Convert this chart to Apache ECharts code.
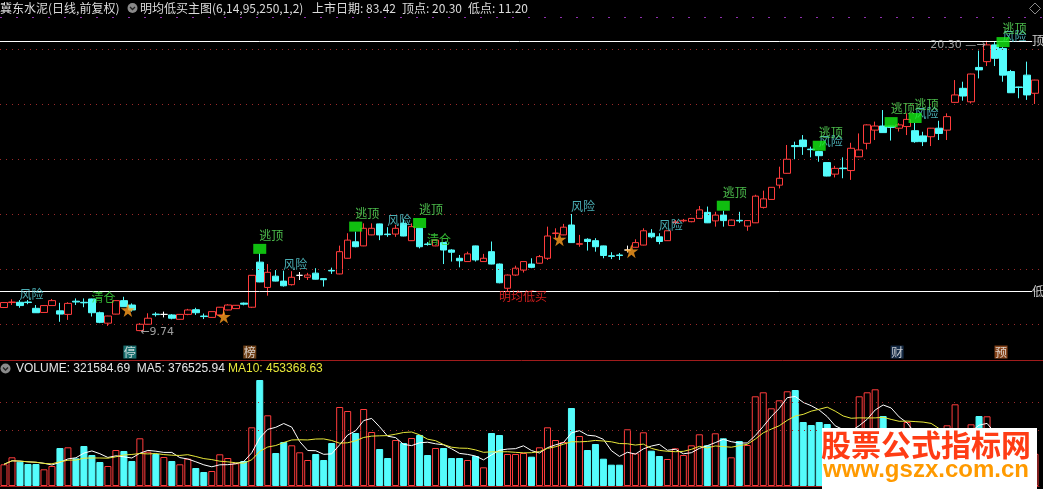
<!DOCTYPE html>
<html><head><meta charset="utf-8">
<script src="https://cdn.jsdelivr.net/npm/echarts@6/dist/echarts.min.js"></script>
<style>html,body{margin:0;padding:0;background:#000;overflow:hidden}#c{width:1043px;height:489px}</style>
</head><body><div id="c"></div>
<script>
// ---------- data ----------
const opens = [10.60,10.78,10.79,10.80,10.57,10.42,10.67,10.48,10.35,10.83,
 10.79,10.91,10.41,10.03,10.36,10.85,10.69,9.76,9.99,10.36,
 10.35,10.33,10.17,10.35,10.52,10.29,10.24,10.33,10.51,10.56,
 10.76,10.61,12.25,11.33,11.74,11.56,11.43,11.77,11.70,11.85,
 11.65,11.95,11.82,12.39,12.99,12.84,13.24,13.64,13.27,13.27,
 13.66,13.03,13.48,12.91,12.84,12.96,12.69,12.39,12.27,12.84,
 12.27,12.63,12.18,11.30,11.78,11.96,12.18,12.21,12.39,13.29,
 13.24,13.60,12.90,13.08,13.03,12.84,12.48,12.51,12.69,12.79,
 12.87,13.30,13.17,13.03,13.69,13.75,13.72,13.84,14.06,13.75,
 13.96,13.58,13.77,13.56,13.68,14.24,14.53,15.05,15.48,16.49,
 16.69,16.36,16.27,15.87,15.45,15.67,15.58,16.08,16.57,17.05,
 17.20,17.20,17.12,17.18,17.03,16.84,16.81,17.12,17.05,18.06,
 18.57,18.08,19.33,19.54,20.15,20.02,19.18,18.62,19.05,18.39];
const closes = [10.78,10.80,10.67,10.78,10.41,10.67,10.85,10.36,10.75,10.80,
 10.77,10.41,10.06,10.29,10.85,10.63,10.51,9.99,10.21,10.34,
 10.35,10.21,10.35,10.51,10.41,10.27,10.45,10.61,10.69,10.68,
 10.72,11.77,11.53,11.88,11.56,11.39,11.70,11.77,11.78,11.63,
 11.61,11.93,12.63,13.05,12.81,13.48,13.48,13.24,13.25,13.48,
 13.20,13.54,12.81,12.89,13.05,12.69,12.61,12.30,12.55,12.33,
 12.39,12.18,11.50,11.78,12.03,12.27,12.06,12.45,13.20,13.31,
 13.52,12.96,12.92,13.00,12.81,12.49,12.46,12.49,12.69,12.96,
 13.39,13.17,13.00,13.39,13.71,13.77,13.84,14.15,13.68,13.96,
 13.76,13.78,13.75,13.76,14.65,14.55,14.97,15.30,15.99,16.45,
 16.45,16.34,16.12,15.38,15.66,15.65,16.39,16.33,17.24,17.20,
 16.96,17.15,17.24,17.44,16.63,16.63,17.12,16.93,17.54,18.33,
 18.29,19.09,19.24,20.15,19.66,19.05,18.41,18.60,18.33,18.87];
const lows = [10.58,10.69,10.59,10.72,10.40,10.40,10.66,10.08,10.15,10.69,
 10.61,10.27,10.03,9.93,10.35,10.62,10.45,9.74,9.98,10.27,
 10.24,10.17,10.16,10.32,10.33,10.18,10.23,10.32,10.50,10.55,
 10.68,10.58,11.52,11.03,11.55,11.36,11.40,11.60,11.60,11.62,
 11.36,11.82,11.81,12.38,12.79,12.83,13.23,13.05,13.17,13.17,
 13.19,13.02,12.75,12.85,12.83,12.18,12.27,12.06,12.26,12.27,
 12.26,12.17,11.48,11.20,11.75,11.87,12.03,12.20,12.33,13.12,
 13.23,12.95,12.81,12.67,12.63,12.39,12.36,12.33,12.60,12.78,
 12.86,13.12,12.90,13.02,13.62,13.70,13.70,13.83,13.67,13.54,
 13.54,13.57,13.68,13.39,13.67,14.20,14.52,14.93,15.47,15.99,
 16.15,16.06,15.90,15.37,15.33,15.30,15.24,16.07,16.35,16.69,
 16.95,16.67,17.00,16.87,16.59,16.47,16.47,16.69,16.69,18.05,
 18.12,18.02,18.93,19.38,19.38,18.81,18.40,18.21,18.15,18.00];
const highs = [10.80,10.90,10.87,10.87,10.69,10.68,10.91,10.77,10.79,10.93,
 10.93,10.92,10.45,10.30,10.86,10.99,10.75,10.03,10.39,10.43,
 10.45,10.36,10.36,10.55,10.59,10.38,10.46,10.62,10.72,10.69,
 10.78,11.78,12.57,12.18,11.96,11.94,11.92,11.89,11.86,12.03,
 11.66,12.05,12.85,13.30,13.36,13.66,13.66,13.65,13.52,13.60,
 13.81,13.66,13.49,12.98,13.06,12.97,12.72,12.51,12.63,12.85,
 12.55,13.00,12.20,11.80,12.12,12.28,12.39,12.51,13.54,13.48,
 13.64,14.00,13.24,13.12,13.12,12.85,12.61,12.58,12.85,13.08,
 13.48,13.45,13.30,13.40,13.78,13.82,13.86,14.29,14.27,14.08,
 14.12,13.80,14.08,13.77,14.70,14.85,14.98,15.72,16.51,16.63,
 16.87,16.45,16.30,15.88,15.75,16.06,16.59,16.93,17.26,17.36,
 17.78,17.21,17.30,17.66,17.31,16.99,17.13,17.39,17.66,18.87,
 18.81,19.10,19.94,20.30,20.25,20.07,19.24,18.63,19.54,18.88];
const volumes = [217000,287000,243000,220000,220000,167000,200000,380000,387000,277000,
 400000,310000,240000,200000,360000,350000,250000,477000,343000,320000,
 290000,250000,217000,273000,180000,140000,150000,317000,280000,227000,
 250000,587000,1060000,707000,330000,440000,407000,337000,260000,320000,
 260000,430000,790000,750000,530000,770000,540000,370000,280000,460000,
 430000,480000,510000,310000,380000,380000,280000,280000,260000,300000,
 187000,530000,510000,320000,320000,330000,293000,387000,587000,460000,
 440000,780000,500000,360000,420000,273000,213000,213000,567000,327000,
 537000,353000,300000,270000,377000,310000,407000,517000,407000,527000,
 477000,287000,450000,410000,897000,937000,777000,857000,947000,960000,
 640000,610000,640000,620000,500000,450000,550000,897000,937000,967000,
 700000,400000,450000,640000,450000,400000,420000,380000,607000,817000,
 300000,617000,700000,697000,337000,480000,420000,311000,350000,321584.69];
const categories = opens.map((_, i) => 'D' + (i + 1));

const topPrice = 20.30, lowPrice = 11.20, minLabelPrice = 9.74;
const gridPrices = [10, 12, 14, 16, 18, 20];
const volGridLines = [560000, 840000];

const escIdx   = [32, 44, 52, 90, 102, 111, 114, 125];          // 逃顶 (box bottom price)
const escPrice = [12.55, 13.36, 13.49, 14.12, 16.30, 17.16, 17.31, 20.07];
const riskIdx   = [2, 35, 48, 71, 82, 102, 114, 125];           // 风险
const riskPrice = [11.09, 12.18, 13.76, 14.27, 13.60, 16.65, 17.67, 20.47];
const clearIdx = [11, 53], clearPrice = [10.95, 13.07];          // 清仓
const buyIdx = [62], buyPrice = [11.00];                          // 明均低买
const starIdx = [16, 28, 70, 79], starPrice = [10.51, 10.27, 13.08, 12.65];
const tagIdx = [16, 31, 112, 125], tagText = ['停', '榜', '财', '预'], tagPrice = 8.98;

const header = ['冀东水泥(日线,前复权)', '明均低买主图(6,14,95,250,1,2)', '上市日期: 83.42', '顶点: 20.30', '低点: 11.20'];
const volHeader = ['VOLUME: 321584.69  MA5: 376525.94', 'MA10: 453368.63'];

// ---------- build ----------
const UP = '#ff3c3c', DOWN = '#54fcfc', FONT = '"Noto Sans CJK SC", sans-serif';
const candleData = opens.map((o, i) => {
  const v = [o, closes[i], lows[i], highs[i]];
  return o === closes[i] ? { value: v, itemStyle: { color: '#fff', color0: '#fff', borderColor: '#fff', borderColor0: '#fff', borderColorDoji: '#fff' } } : v;
});
const volData = volumes.map((v, i) => closes[i] >= opens[i]
  ? { value: v, itemStyle: { color: '#000', borderColor: UP, borderWidth: 1 } }
  : { value: v, itemStyle: { color: DOWN, borderColor: DOWN, borderWidth: 1 } });
function movingAvg(n) {
  return volumes.map((v, i) => { let s = 0, c = 0; for (let k = Math.max(0, i - n + 1); k <= i; k++) { s += volumes[k]; c++; } return s / c; });
}
const pts = (idx, price) => idx.map((x, k) => [x, Array.isArray(price) ? price[k] : price]);
const lbl = (extra) => Object.assign({ show: true, fontFamily: FONT, fontSize: 12 }, extra);
const hdr = (text, x, y, fill, font) => ({ type: 'text', x: x, y: y, silent: true, z: 50,
  style: { text: text, fill: fill, font: font, verticalAlign: 'middle' } });

const chart = echarts.init(document.getElementById('c'), null, { renderer: 'canvas' });
chart.setOption({
  backgroundColor: '#000',
  animation: false,
  grid: [
    { left: -1, width: 1040, top: 21.5, height: 341 },
    { left: -1, width: 1040, top: 361, height: 125 }
  ],
  xAxis: [
    { type: 'category', data: categories, gridIndex: 0, show: false, boundaryGap: true },
    { type: 'category', data: categories, gridIndex: 1, boundaryGap: true,
      axisLine: { show: true, lineStyle: { color: '#a01c1c', width: 1 } }, axisTick: { show: false }, axisLabel: { show: false } }
  ],
  yAxis: [
    { type: 'value', gridIndex: 0, min: 8.6, max: 21, show: false },
    { type: 'value', gridIndex: 1, min: 0, max: 1250000, show: false }
  ],
  series: [
    { type: 'candlestick', xAxisIndex: 0, yAxisIndex: 0, data: candleData, barWidth: 7, silent: true, z: 3,
      itemStyle: { color: '#000', color0: DOWN, borderColor: UP, borderColor0: DOWN, borderWidth: 1 },
      markLine: { silent: true, symbol: 'none', animation: false, label: { show: false },
        data: gridPrices.map(p => ({ yAxis: p, lineStyle: { color: '#9a2a2a', type: [1, 5], width: 1 } }))
          .concat([{ yAxis: topPrice, lineStyle: { color: '#ffffff', type: 'solid', width: 1 } },
                   { yAxis: lowPrice, lineStyle: { color: '#ffffff', type: 'solid', width: 1 } }]) } },
    { type: 'scatter', name: 'stars', data: pts(starIdx, starPrice), symbol: 'path://M50,0 L61,35 L98,35 L68,57 L79,92 L50,70 L21,92 L32,57 L2,35 L39,35 Z',
      symbolSize: 14, symbolOffset: [-4, 0], itemStyle: { color: '#ff9e1e' }, silent: true, z: 6 },
    { type: 'scatter', name: 'risk', data: pts(riskIdx, riskPrice), symbolSize: 1, itemStyle: { color: 'rgba(0,0,0,0)' }, silent: true, z: 7,
      label: lbl({ formatter: '风险', position: 'right', distance: -1, color: '#5cd8e0' }) },
    { type: 'scatter', name: 'esc', data: pts(escIdx, escPrice), symbol: 'rect', symbolSize: [13, 10], symbolOffset: [0, -5],
      itemStyle: { color: '#14ee14' }, silent: true, z: 8,
      label: lbl({ formatter: '逃顶', position: [6, -8.5], align: 'left', verticalAlign: 'middle', color: '#5ee85e' }) },
    { type: 'scatter', name: 'clear', data: pts(clearIdx, clearPrice), symbolSize: 1, itemStyle: { color: 'rgba(0,0,0,0)' }, silent: true, z: 8,
      label: lbl({ formatter: '清仓', position: 'right', distance: -1, color: '#3ee03e' }) },
    { type: 'scatter', name: 'buy', data: pts(buyIdx, buyPrice), symbolSize: 1, itemStyle: { color: 'rgba(0,0,0,0)' }, silent: true, z: 8,
      label: lbl({ formatter: '明均低买', position: 'right', distance: -1, color: '#ff2424' }) },
    { type: 'scatter', name: 'hi', data: [[123, topPrice]], symbolSize: 1, itemStyle: { color: 'rgba(0,0,0,0)' }, silent: true, z: 8,
      label: lbl({ formatter: topPrice.toFixed(2) + ' —→', position: 'left', distance: 1, offset: [0, 4], color: '#c4c4c4', fontFamily: '"DejaVu Sans", sans-serif', fontSize: 11 }) },
    { type: 'scatter', name: 'lo', data: [[17, minLabelPrice]], symbolSize: 1, itemStyle: { color: 'rgba(0,0,0,0)' }, silent: true, z: 8,
      label: lbl({ formatter: '←' + minLabelPrice.toFixed(2), position: 'right', distance: 0, offset: [0, 1], color: '#c4c4c4', fontFamily: '"DejaVu Sans", sans-serif', fontSize: 11 }) },
    { type: 'scatter', name: 'lineLabels', data: [[129, topPrice, '顶'], [129, lowPrice, '低']], symbolSize: 1, itemStyle: { color: 'rgba(0,0,0,0)' }, silent: true, z: 9,
      label: lbl({ formatter: p => p.value[2], position: 'inside', offset: [3, 0], color: '#ffffff', backgroundColor: '#000', padding: [0, 0] }) },
    { type: 'scatter', name: 'tags', data: tagIdx.map((x, k) => [x, tagPrice, tagText[k]]), symbol: 'rect', symbolSize: [13, 13], symbolOffset: [-2, 0],
      silent: true, z: 9,
      itemStyle: { color: p => ['#1f8a8a', '#8a4f1c', '#1c3658', '#a65420'][p.dataIndex] },
      label: lbl({ formatter: p => p.value[2], position: 'inside', color: '#f0f0f0' }) },
    { type: 'bar', xAxisIndex: 1, yAxisIndex: 1, data: volData, barWidth: 7, silent: true, z: 2,
      markLine: { silent: true, symbol: 'none', animation: false, label: { show: false },
        data: volGridLines.map(v => ({ yAxis: v, lineStyle: { color: '#9a2a2a', type: [1, 5], width: 1 } })) } },
    { type: 'line', xAxisIndex: 1, yAxisIndex: 1, data: movingAvg(5), symbol: 'none', silent: true, z: 4,
      lineStyle: { color: '#ffffff', width: 1 } },
    { type: 'line', xAxisIndex: 1, yAxisIndex: 1, data: movingAvg(10), symbol: 'none', silent: true, z: 4,
      lineStyle: { color: '#e8e83a', width: 1 } }
  ],
  graphic: [
    { type: 'line', z: 50, shape: { x1: 0, y1: 17.5, x2: 1043, y2: 17.5 }, style: { stroke: '#9030b0', lineWidth: 1, lineDash: [2, 14] }, silent: true },
    { type: 'line', z: 50, shape: { x1: 0, y1: 360.5, x2: 1043, y2: 360.5 }, style: { stroke: '#a01c1c', lineWidth: 1 }, silent: true },
    hdr(header[0], 0, 8, '#dcdcdc', '12px ' + FONT),
    { type: 'circle', z: 50, shape: { cx: 132.5, cy: 8, r: 5 }, style: { fill: '#8a8a8a' }, silent: true },
    { type: 'polyline', z: 51, shape: { points: [[130, 7], [132.5, 9.5], [135, 7]] }, style: { stroke: '#222', lineWidth: 1.3, fill: null }, silent: true },
    hdr(header[1], 140, 8, '#dcdcdc', '12px ' + FONT),
    hdr(header[2], 312, 8, '#dcdcdc', '12px ' + FONT),
    hdr(header[3], 402, 8, '#dcdcdc', '12px ' + FONT),
    hdr(header[4], 468, 8, '#dcdcdc', '12px ' + FONT),
    { type: 'polygon', z: 50, shape: { points: [[1035, 3], [1040.5, 8.5], [1035, 14], [1029.5, 8.5]] }, style: { stroke: '#8a8a8a', fill: null, lineWidth: 1 }, silent: true },
    { type: 'circle', z: 50, shape: { cx: 5.5, cy: 368.5, r: 5 }, style: { fill: '#8a8a8a' }, silent: true },
    { type: 'polyline', z: 51, shape: { points: [[3, 367.5], [5.5, 370], [8, 367.5]] }, style: { stroke: '#222', lineWidth: 1.3, fill: null }, silent: true },
    hdr(volHeader[0], 16, 369, '#e6e6e6', '12px "Liberation Sans", sans-serif'),
    hdr(volHeader[1], 228, 369, '#e8e83a', '12px "Liberation Sans", sans-serif'),
    { type: 'rect', z: 100, silent: true, shape: { x: 822, y: 428, width: 215, height: 61 }, style: { fill: '#ffffff' } },
    { type: 'text', z: 101, silent: true, x: 926, y: 445, style: { text: '股票公式指标网', fill: '#ff3c14', font: 'bold 30px "Noto Sans CJK SC"', align: 'center', verticalAlign: 'middle' } },
    { type: 'text', z: 101, silent: true, x: 926, y: 470, style: { text: 'www.gszx.com.cn', fill: '#ff9a00', font: 'bold 24px "Liberation Sans", sans-serif', align: 'center', verticalAlign: 'middle' } }
  ]
});
</script></body></html>
